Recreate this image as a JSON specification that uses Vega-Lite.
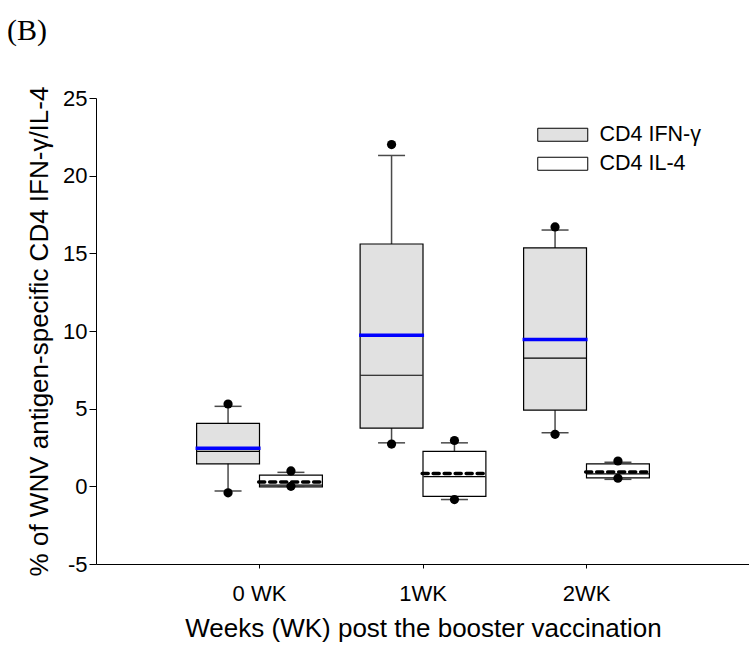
{
  "$schema": "https://vega.github.io/schema/vega-lite/v6.json",
  "width": 654,
  "height": 466,
  "autosize": {"type": "none"},
  "padding": {"left": 96, "top": 98, "right": 0, "bottom": 82},
  "background": "white",
  "title": {"text": "(B)", "anchor": "start", "frame": "group", "font": "Liberation Serif", "fontSize": 30, "fontWeight": "normal", "color": "black", "offset": 40, "dx": -89},
  "config": {"view": {"stroke": null}, "font": "Liberation Sans"},
  "datasets": {
    "boxes": [
      {"week": "0 WK", "series": "CD4 IFN-γ", "q1": 1.45, "q3": 4.05, "median": 2.25, "mean": 2.45, "lo": -0.3, "hi": 5.15},
      {"week": "0 WK", "series": "CD4 IL-4", "q1": -0.03, "q3": 0.72, "median": 0.08, "mean": 0.28, "lo": 0.0, "hi": 0.9},
      {"week": "1WK", "series": "CD4 IFN-γ", "q1": 3.75, "q3": 15.6, "median": 7.15, "mean": 9.72, "lo": 2.8, "hi": 21.3},
      {"week": "1WK", "series": "CD4 IL-4", "q1": -0.65, "q3": 2.25, "median": 0.62, "mean": 0.82, "lo": -0.85, "hi": 2.8},
      {"week": "2WK", "series": "CD4 IFN-γ", "q1": 4.9, "q3": 15.35, "median": 8.25, "mean": 9.45, "lo": 3.45, "hi": 16.5},
      {"week": "2WK", "series": "CD4 IL-4", "q1": 0.55, "q3": 1.45, "median": 0.8, "mean": 0.92, "lo": 0.45, "hi": 1.55}
    ],
    "dots": [
      {"week": "0 WK", "series": "CD4 IFN-γ", "value": 5.3},
      {"week": "0 WK", "series": "CD4 IFN-γ", "value": -0.42},
      {"week": "0 WK", "series": "CD4 IL-4", "value": 0.99},
      {"week": "0 WK", "series": "CD4 IL-4", "value": 0.0},
      {"week": "1WK", "series": "CD4 IFN-γ", "value": 22.0},
      {"week": "1WK", "series": "CD4 IFN-γ", "value": 2.72},
      {"week": "1WK", "series": "CD4 IL-4", "value": 2.95},
      {"week": "1WK", "series": "CD4 IL-4", "value": -0.85},
      {"week": "2WK", "series": "CD4 IFN-γ", "value": 16.7},
      {"week": "2WK", "series": "CD4 IFN-γ", "value": 3.35},
      {"week": "2WK", "series": "CD4 IL-4", "value": 1.63},
      {"week": "2WK", "series": "CD4 IL-4", "value": 0.52}
    ]
  },
  "layer": [
    {
      "data": {"name": "boxes"},
      "mark": {"type": "rule", "color": "#4a4a4a", "strokeWidth": 1.5, "opacity": 1},
      "encoding": {
        "x": {"field": "week", "type": "nominal", "sort": ["0 WK", "1WK", "2WK"], "title": "Weeks (WK) post the booster vaccination",
          "scale": {"paddingInner": 0, "paddingOuter": 0.5},
          "axis": {"labelAngle": 0, "tickSize": 4, "labelFontSize": 22, "titleFontSize": 26, "labelPadding": 15, "titlePadding": 11, "domainColor": "black", "tickColor": "black", "labelColor": "black", "titleColor": "black", "titleFontWeight": "normal", "labelFont": "Liberation Sans", "titleFont": "Liberation Sans"}},
        "xOffset": {"field": "series", "type": "nominal", "sort": ["CD4 IFN-γ", "CD4 IL-4"], "scale": {"paddingInner": 0, "paddingOuter": 0.3}},
        "y": {"field": "lo", "type": "quantitative", "title": "% of WNV antigen-specific CD4 IFN-γ/IL-4",
          "scale": {"domain": [-5, 25], "nice": false, "zero": false},
          "axis": {"values": [-5, 0, 5, 10, 15, 20, 25], "labelExpr": "'' + datum.value", "grid": false, "tickSize": 7, "labelFontSize": 22, "titleFontSize": 26, "labelPadding": 2, "titlePadding": 10, "domainColor": "black", "tickColor": "black", "labelColor": "black", "titleColor": "black", "titleFontWeight": "normal", "labelFont": "Liberation Sans", "titleFont": "Liberation Sans"}},
        "y2": {"field": "hi"}
      }
    },
    {
      "mark": {"type": "rule", "color": "black", "strokeWidth": 1},
      "encoding": {"y": {"datum": 25, "type": "quantitative"}}
    },
    {
      "data": {"name": "boxes"},
      "mark": {"type": "tick", "color": "#4a4a4a", "size": 27, "thickness": 1.5, "opacity": 1},
      "encoding": {
        "x": {"field": "week", "type": "nominal", "sort": ["0 WK", "1WK", "2WK"], "title": "Weeks (WK) post the booster vaccination"},
        "xOffset": {"field": "series", "type": "nominal", "sort": ["CD4 IFN-γ", "CD4 IL-4"]},
        "y": {"field": "lo", "type": "quantitative", "title": "% of WNV antigen-specific CD4 IFN-γ/IL-4"}
      }
    },
    {
      "data": {"name": "boxes"},
      "mark": {"type": "tick", "color": "#4a4a4a", "size": 27, "thickness": 1.5, "opacity": 1},
      "encoding": {
        "x": {"field": "week", "type": "nominal", "sort": ["0 WK", "1WK", "2WK"], "title": "Weeks (WK) post the booster vaccination"},
        "xOffset": {"field": "series", "type": "nominal", "sort": ["CD4 IFN-γ", "CD4 IL-4"]},
        "y": {"field": "hi", "type": "quantitative", "title": "% of WNV antigen-specific CD4 IFN-γ/IL-4"}
      }
    },
    {
      "data": {"name": "boxes"},
      "mark": {"type": "bar", "stroke": "black", "strokeWidth": 1.2, "opacity": 1},
      "encoding": {
        "x": {"field": "week", "type": "nominal", "sort": ["0 WK", "1WK", "2WK"], "title": "Weeks (WK) post the booster vaccination"},
        "xOffset": {"field": "series", "type": "nominal", "sort": ["CD4 IFN-γ", "CD4 IL-4"]},
        "y": {"field": "q3", "type": "quantitative", "title": "% of WNV antigen-specific CD4 IFN-γ/IL-4"},
        "y2": {"field": "q1"},
        "fill": {"field": "series", "type": "nominal", "sort": ["CD4 IFN-γ", "CD4 IL-4"],
          "scale": {"domain": ["CD4 IFN-γ", "CD4 IL-4"], "range": ["#e1e1e1", "#ffffff"]},
          "legend": {"title": null, "orient": "none", "legendX": 456, "legendY": 26, "symbolType": "M-5,-1.3H5V1.3H-5Z", "symbolSize": 100, "symbolStrokeColor": "black", "symbolStrokeWidth": 1, "symbolOpacity": 1, "labelFontSize": 21.5, "labelOffset": 26, "rowPadding": 6, "padding": 0, "labelColor": "black", "labelFont": "Liberation Sans"}}
      }
    },
    {
      "data": {"name": "boxes"},
      "mark": {"type": "tick", "color": "black", "size": 62, "thickness": 1.2, "opacity": 1},
      "encoding": {
        "x": {"field": "week", "type": "nominal", "sort": ["0 WK", "1WK", "2WK"], "title": "Weeks (WK) post the booster vaccination"},
        "xOffset": {"field": "series", "type": "nominal", "sort": ["CD4 IFN-γ", "CD4 IL-4"]},
        "y": {"field": "median", "type": "quantitative", "title": "% of WNV antigen-specific CD4 IFN-γ/IL-4"}
      }
    },
    {
      "data": {"name": "boxes"},
      "transform": [{"filter": "datum.series === 'CD4 IFN-γ'"}],
      "mark": {"type": "tick", "color": "#0000ff", "size": 65, "thickness": 3.5, "opacity": 1},
      "encoding": {
        "x": {"field": "week", "type": "nominal", "sort": ["0 WK", "1WK", "2WK"], "title": "Weeks (WK) post the booster vaccination"},
        "xOffset": {"field": "series", "type": "nominal", "sort": ["CD4 IFN-γ", "CD4 IL-4"]},
        "y": {"field": "mean", "type": "quantitative", "title": "% of WNV antigen-specific CD4 IFN-γ/IL-4"}
      }
    },
    {
      "data": {"name": "boxes"},
      "transform": [{"filter": "datum.series === 'CD4 IL-4'"}],
      "mark": {"type": "rule", "color": "black", "strokeWidth": 3.5, "strokeDash": [6, 5], "strokeCap": "round", "opacity": 1},
      "encoding": {
        "x": {"field": "week", "type": "nominal", "sort": ["0 WK", "1WK", "2WK"], "title": "Weeks (WK) post the booster vaccination", "bandPosition": 0.495},
        "x2": {"field": "week", "bandPosition": 0.882},
        "y": {"field": "mean", "type": "quantitative", "title": "% of WNV antigen-specific CD4 IFN-γ/IL-4"}
      }
    },
    {
      "data": {"name": "dots"},
      "mark": {"type": "point", "filled": true, "color": "black", "size": 85, "opacity": 1},
      "encoding": {
        "x": {"field": "week", "type": "nominal", "sort": ["0 WK", "1WK", "2WK"], "title": "Weeks (WK) post the booster vaccination"},
        "xOffset": {"field": "series", "type": "nominal", "sort": ["CD4 IFN-γ", "CD4 IL-4"]},
        "y": {"field": "value", "type": "quantitative", "title": "% of WNV antigen-specific CD4 IFN-γ/IL-4"}
      }
    }
  ]
}
